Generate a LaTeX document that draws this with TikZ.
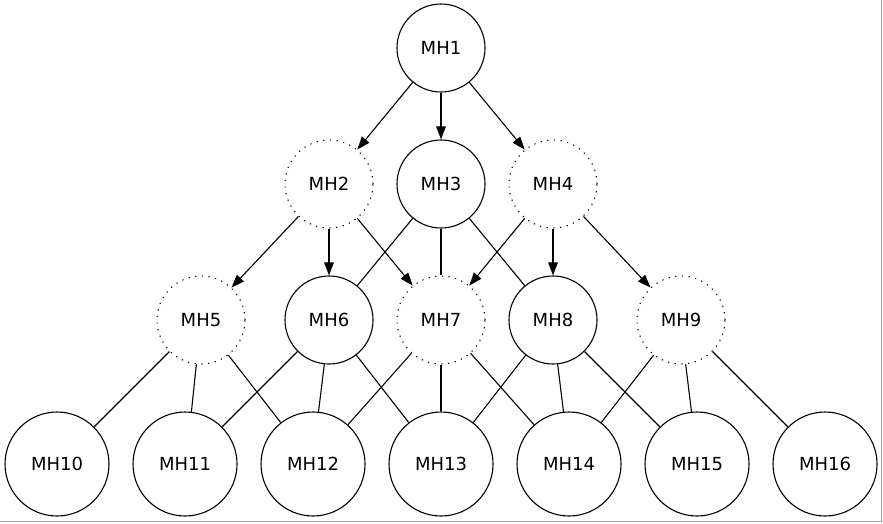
\documentclass[tikz,border=0pt]{standalone}
\usepackage{fontspec}
\setmainfont{DejaVu Sans}
\usetikzlibrary{arrows.meta}
\begin{document}
\begin{tikzpicture}[x=1pt,y=-1pt,
  mh/.style={circle,draw,line width=1.1pt,minimum size=88pt,inner sep=0pt,font=\fontsize{18}{21}\selectfont},
  big/.style={mh,minimum size=104pt},
  dotc/.style={dash pattern=on 1.2pt off 5.5pt},
  arr/.style={line width=1.1pt,-{Triangle[length=13pt,width=9.5pt]}},
  ln/.style={line width=1.1pt}]
\useasboundingbox (0,0) rectangle (883,523);
\draw[black!38, line width=1.5pt] (881.5,0) -- (881.5,521.5) -- (0,521.5);
% row 1
\node[mh] (MH1) at (441,48) {MH1};
% row 2
\node[mh,dotc] (MH2) at (329,184) {MH2};
\node[mh] (MH3) at (441,184) {MH3};
\node[mh,dotc] (MH4) at (553,184) {MH4};
% row 3
\node[mh,dotc] (MH5) at (201,320) {MH5};
\node[mh] (MH6) at (329,320) {MH6};
\node[mh,dotc] (MH7) at (441,320) {MH7};
\node[mh] (MH8) at (553,320) {MH8};
\node[mh,dotc] (MH9) at (681,320) {MH9};
% row 4
\node[big] (MH10) at (57,464) {MH10};
\node[big] (MH11) at (185,464) {MH11};
\node[big] (MH12) at (313,464) {MH12};
\node[big] (MH13) at (441,464) {MH13};
\node[big] (MH14) at (569,464) {MH14};
\node[big] (MH15) at (697,464) {MH15};
\node[big] (MH16) at (825,464) {MH16};
% arrows
\draw[arr] (MH1) -- (MH2);
\draw[arr] (MH1) -- (MH3);
\draw[arr] (MH1) -- (MH4);
\draw[arr] (MH2) -- (MH5);
\draw[arr] (MH2) -- (MH6);
\draw[arr] (MH2) -- (MH7);
\draw[arr] (MH4) -- (MH7);
\draw[arr] (MH4) -- (MH8);
\draw[arr] (MH4) -- (MH9);
% plain lines
\draw[ln] (MH3) -- (MH6);
\draw[ln] (MH3) -- (MH7);
\draw[ln] (MH3) -- (MH8);
\draw[ln] (MH5) -- (MH10);
\draw[ln] (MH5.264) -- (MH11.83);
\draw[ln] (MH5) -- (MH12);
\draw[ln] (MH6) -- (MH11);
\draw[ln] (MH6.264) -- (MH12.84);
\draw[ln] (MH6) -- (MH13);
\draw[ln] (MH7) -- (MH12);
\draw[ln] (MH7) -- (MH13);
\draw[ln] (MH7) -- (MH14);
\draw[ln] (MH8) -- (MH13);
\draw[ln] (MH8.276) -- (MH14.96);
\draw[ln] (MH8) -- (MH15);
\draw[ln] (MH9) -- (MH14);
\draw[ln] (MH9.276) -- (MH15.96);
\draw[ln] (MH9) -- (MH16);
\end{tikzpicture}
\end{document}
